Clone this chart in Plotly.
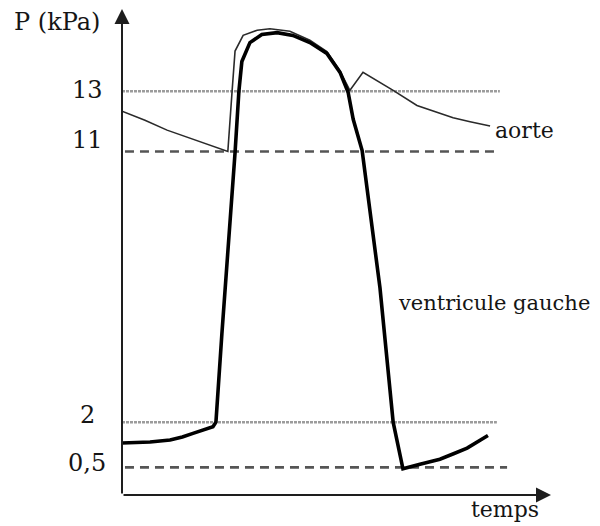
import plotly.graph_objects as go

# ---- data (time in arbitrary units, pressure in kPa) ----
ventricle_t = [0, 6.6, 11.3, 14.2, 16.7, 19.2, 21.4, 22.1, 23.5, 26.6, 27.1, 27.5, 28.2, 30.1, 32.9, 36.5,
               40.2, 44.2, 48.2, 51.3, 53.2, 54.4, 56.5, 60.7, 63.8, 66.1, 70.1, 74.8, 78.0, 81.2, 86.1]
ventricle_p = [1.31, 1.34, 1.41, 1.51, 1.63, 1.75, 1.85, 2.0, 4.94, 10.96, 12.07, 13.0, 13.99, 14.62, 14.89, 14.95,
               14.86, 14.62, 14.26, 13.63, 12.97, 12.07, 11.03, 6.46, 2.0, 0.45, 0.60, 0.77, 0.95, 1.14, 1.56]

aorta_t = [0, 5.4, 10.6, 14.5, 18.4, 24.9, 25.9, 26.6, 28.5, 31.8, 34.8, 39.5, 44.2, 48.2, 51.3,
           53.6, 56.7, 60.7, 63.8, 69.4, 73.6, 77.9, 81.9, 86.6]
aorta_p = [12.34, 12.04, 11.71, 11.51, 11.33, 11.0, 13.0, 14.34, 14.86, 15.03, 15.08, 15.0, 14.70, 14.32, 13.68,
           13.03, 13.63, 13.30, 13.03, 12.53, 12.32, 12.12, 11.99, 11.85]

levels = [13, 11, 2, 0.5]
level_labels = ["13", "11", "2", "0,5"]
level_start = [0, 0.7, 0, 0.7]
level_end = [88.9, 87.8, 88.2, 90.6]
level_dashed = [False, True, False, True]
label_shift = [1, 11, 7, 4]

X_RANGE = [0, 107.76]
Y_RANGE = [-0.42, 15.77]

# page geometry (the page body has an 8px margin)
PLOT_L, PLOT_R, PLOT_T, PLOT_B = 122, 580, 8, 495
W_PLOT = PLOT_R - PLOT_L
H_PLOT = PLOT_B - PLOT_T


def px(xp):
    return (xp - PLOT_L) / W_PLOT


def py(yp):
    return (PLOT_B - yp) / H_PLOT


fig = go.Figure()

for lv, a, b, dashed in zip(levels, level_start, level_end, level_dashed):
    fig.add_trace(go.Scatter(
        x=[a, b], y=[lv, lv], mode="lines", hoverinfo="skip", showlegend=False,
        line=dict(color="#555555" if dashed else "#9c9c9c",
                  width=2.6 if dashed else 2.4,
                  dash="9px,6px" if dashed else "3px,1px")))

fig.add_trace(go.Scatter(x=aorta_t, y=aorta_p, mode="lines", showlegend=False,
                         line=dict(color="#2a2a2a", width=1.6)))
fig.add_trace(go.Scatter(x=ventricle_t, y=ventricle_p, mode="lines", showlegend=False,
                         line=dict(color="#000000", width=3.6)))

font = dict(family="DejaVu Serif", size=22, color="#151515")
font_mid = dict(family="DejaVu Serif", size=21, color="#151515")
font_big = dict(family="DejaVu Serif", size=24, color="#151515")

# tick labels
for lv, txt, sh in zip(levels, level_labels, label_shift):
    fig.add_annotation(x=px(87), xref="paper", y=lv, yref="y", text=txt,
                       showarrow=False, xanchor="center", yanchor="middle", yshift=sh, font=font_big)

# axes with arrows
fig.add_annotation(x=0, xref="paper", y=py(9), yref="paper", ax=0, ay=PLOT_B - 9,
                   axref="pixel", ayref="pixel", showarrow=True, arrowhead=2, arrowsize=1.5,
                   arrowwidth=2, arrowcolor="#1e1e1e", text="")
fig.add_annotation(x=px(551), xref="paper", y=0, yref="paper", ax=-(551 - PLOT_L), ay=0,
                   axref="pixel", ayref="pixel", showarrow=True, arrowhead=2, arrowsize=1.5,
                   arrowwidth=2, arrowcolor="#1e1e1e", text="")

fig.add_annotation(x=px(57), xref="paper", y=py(22), yref="paper",
                   text="P (kPa)", showarrow=False, xanchor="center", yanchor="middle", font=font_big)
fig.add_annotation(x=aorta_t[-1] + 0.6, xref="x", y=aorta_p[-1], yref="y", yshift=-5,
                   text="aorte", showarrow=False, xanchor="left", yanchor="middle", font=font)
fig.add_annotation(x=px(396), xref="paper", y=py(303), yref="paper",
                   text="ventricule gauche", showarrow=False, xanchor="left", yanchor="middle",
                   font=font_mid)
fig.add_annotation(x=px(505), xref="paper", y=py(509), yref="paper",
                   text="temps", showarrow=False, xanchor="center", yanchor="middle", font=font)

fig.update_xaxes(range=X_RANGE, visible=False, showgrid=False, zeroline=False)
fig.update_yaxes(range=Y_RANGE, visible=False, showgrid=False, zeroline=False)
fig.update_layout(width=600 - 8, height=526 - 8,
                  margin=dict(l=PLOT_L - 8, r=600 - PLOT_R, t=PLOT_T - 8, b=526 - PLOT_B),
                  paper_bgcolor="white", plot_bgcolor="white")

fig.write_html("out.html")
